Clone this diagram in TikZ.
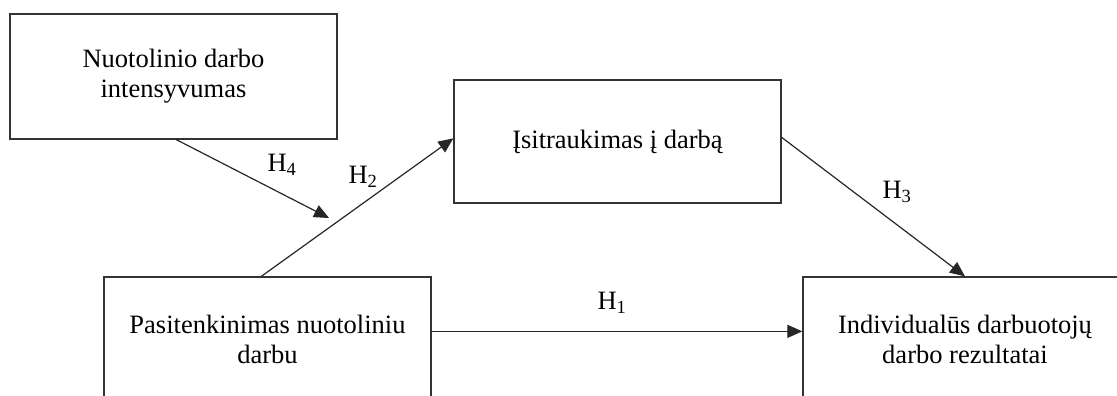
\documentclass[tikz,border=0pt]{standalone}
\usepackage{fontspec}
\setmainfont{Liberation Serif}
\usetikzlibrary{arrows.meta,calc}

\tikzset{
  box/.style={draw=black!80, line width=1.3pt, rectangle, inner sep=0pt,
    align=center, font=\fontsize{26.5}{30}\selectfont},
  link/.style={draw=black!85, line width=1.2pt,
    -{Triangle[length=15pt,width=13pt]}},
  hyp/.style={inner sep=0pt, font=\fontsize{26.5}{30}\selectfont}
}

\begin{document}
\begin{tikzpicture}[x=1pt,y=-1pt]
\useasboundingbox (0,0) rectangle (1117,396);
\clip (0,0) rectangle (1117,396);

% constructs
\node[box, minimum width=327pt, minimum height=125pt] (b1) at (173.5,76.5)
  {Nuotolinio darbo\\intensyvumas};
\node[box, minimum width=327pt, minimum height=123pt] (b2) at (617.5,141.5)
  {Įsitraukimas į darbą};
\node[box, minimum width=327pt, minimum height=125pt] (b3) at (267.5,339.5)
  {Pasitenkinimas nuotoliniu\\darbu};
\node[box, minimum width=324pt, minimum height=125pt] (b4) at (965,339.5)
  {Individualūs darbuotojų\\darbo rezultatai};

% moderating path ends in open space
\coordinate (m4) at (329,218);

% hypothesised paths
\draw[link] ($(b1.south west)+(167,0)$) -- (m4);
\draw[link] ($(b3.north west)+(158,0)$) -- ($(b2.north west)+(0,59)$);
\draw[link] ($(b2.north east)+(0,58)$) -- (b4.north);
\draw[link] ($(b3.north east)+(0,55)$) -- ($(b4.north west)+(0,55)$);

% hypothesis labels
\node[hyp] (h4) at (282,165) {H\textsubscript{4}};
\node[hyp] (h2) at (363,177) {H\textsubscript{2}};
\node[hyp] (h3) at (897,192) {H\textsubscript{3}};
\node[hyp] (h1) at (612,303) {H\textsubscript{1}};
\end{tikzpicture}
\end{document}
